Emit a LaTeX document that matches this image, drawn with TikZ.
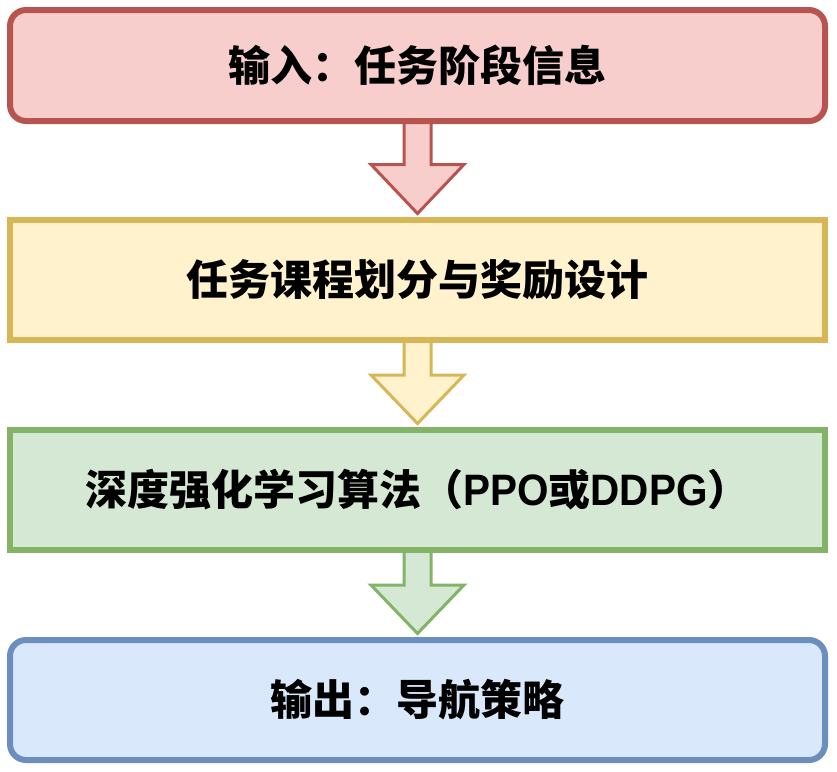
\documentclass[tikz,border=0pt]{standalone}
\usepackage{fontspec}
\newfontfamily\cjk{Noto Sans CJK SC}
\newfontfamily\latn{Liberation Sans}[FakeStretch=0.92]
\usetikzlibrary{calc}
\pgfdeclarelayer{bg}
\pgfsetlayers{bg,main}
\definecolor{rF}{HTML}{F8CECC}\definecolor{rD}{HTML}{B85450}
\definecolor{yF}{HTML}{FFF2CC}\definecolor{yD}{HTML}{D6B656}
\definecolor{gF}{HTML}{D5E8D4}\definecolor{gD}{HTML}{82B366}
\definecolor{bF}{HTML}{DAE8FC}\definecolor{bD}{HTML}{6C8EBF}
\newcommand\latw[1]{{\latn\bfseries\fontsize{44}{50}\selectfont #1}}
\newcommand\blockarrow[5]{%
  \draw[barrow, fill=#4, draw=#5]
    ($(#1.south)+(-13.5,0)$) -- ($(#1.south)+(-13.5,#3)$) -- ($(#1.south)+(-46.5,#3)$)
    -- ($(#2.north)+(0,-3.5)$)
    -- ($(#1.south)+(46.5,#3)$) -- ($(#1.south)+(13.5,#3)$) -- ($(#1.south)+(13.5,0)$);}
\begin{document}
\begin{tikzpicture}[x=1pt,y=-1pt,
  box/.style={minimum width=815pt, inner sep=0pt, line width=6pt, text=black,
    font=\cjk\bfseries\fontsize{42}{50}\selectfont},
  barrow/.style={line width=3pt, line join=miter}]
\useasboundingbox (0,0) rectangle (837,771);
\node[box, rounded corners=16pt, fill=rF, draw=rD, minimum height=111pt] (n1) at (417.5,65.5) {输入：任务阶段信息};
\node[box, fill=yF, draw=yD, minimum height=120pt] (n2) at (417.5,280) {任务课程划分与奖励设计};
\node[box, fill=gF, draw=gD, minimum height=120pt] (n3) at (417.5,490) {深度强化学习算法（\latw{PPO}或\latw{DDPG}）};
\node[box, rounded corners=16pt, fill=bF, draw=bD, minimum height=120pt] (n4) at (417.5,700) {输出：导航策略};
\begin{pgfonlayer}{bg}
\blockarrow{n1}{n2}{40.5}{rF}{rD}
\blockarrow{n2}{n3}{32}{yF}{yD}
\blockarrow{n3}{n4}{32}{gF}{gD}
\end{pgfonlayer}
\end{tikzpicture}
\end{document}
